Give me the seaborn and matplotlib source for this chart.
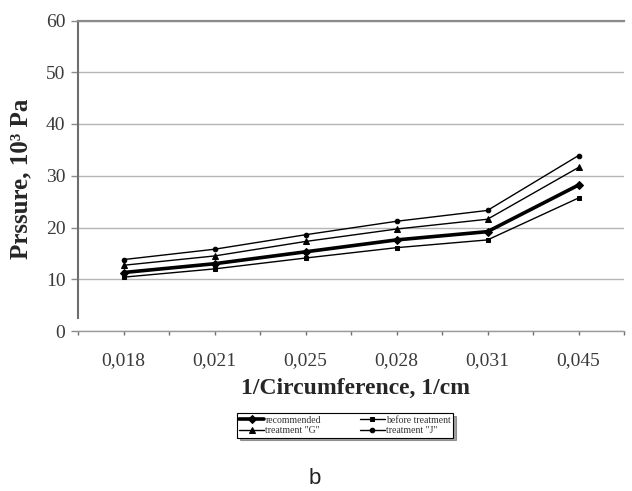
import matplotlib
matplotlib.use("Agg")
import matplotlib.pyplot as plt
import seaborn as sns
import pandas as pd

# ---- data ----
categories = ["0,018", "0,021", "0,025", "0,028", "0,031", "0,045"]
recommended = [11.3, 13.0, 15.3, 17.6, 19.2, 28.2]
before_treatment = [10.4, 12.0, 14.1, 16.1, 17.6, 25.7]
treatment_G = [12.7, 14.5, 17.3, 19.7, 21.6, 31.6]
treatment_J = [13.8, 15.8, 18.6, 21.2, 23.3, 33.9]
series_names = ["recommended", "before treatment", 'treatment "G"', 'treatment "J"']
y_ticks = [0, 10, 20, 30, 40, 50, 60]

sns.set_style("white")
plt.rcParams["font.family"] = ["Liberation Serif", "DejaVu Serif"]

fig = plt.figure(figsize=(6.32, 4.91), dpi=100)
ax = fig.add_axes([78 / 632, 1 - 331 / 491, (624 - 78) / 632, (331 - 20.5) / 491])

df = pd.DataFrame({"x": categories,
                   "recommended": recommended,
                   "before treatment": before_treatment,
                   'treatment "G"': treatment_G,
                   'treatment "J"': treatment_J})
long = df.melt(id_vars="x", var_name="series", value_name="y")

styles = {
    "recommended": dict(marker="D", lw=2.6, ms=3.8),
    "before treatment": dict(marker="s", lw=1.0, ms=3.3),
    'treatment "G"': dict(marker="^", lw=1.0, ms=3.8),
    'treatment "J"': dict(marker="o", lw=1.0, ms=3.3),
}

for name in series_names:
    st = styles[name]
    sub = long[long["series"] == name]
    sns.lineplot(data=sub, x="x", y="y", ax=ax, color="black", sort=False,
                 linewidth=st["lw"], marker=st["marker"], markersize=st["ms"],
                 markeredgecolor="black", markerfacecolor="black", label=name)

ax.set_xlim(-0.5, len(categories) - 0.5)
ax.set_ylim(0, 60)
ax.set_yticks(y_ticks)
ax.set_yticklabels([str(v) for v in y_ticks])
ax.set_xticks(range(len(categories)))
ax.set_xticklabels(categories)
ax.set_xticks([i - 0.5 for i in range(len(categories) + 1)], minor=True)

ax.grid(axis="y", color="#b5b5b5", linewidth=1.0)
ax.grid(axis="x", visible=False)
ax.set_axisbelow(True)

ax.spines["right"].set_visible(False)
ax.spines["top"].set_color("#8a8a8a")
ax.spines["top"].set_linewidth(1.6)
ax.spines["left"].set_color("#6e6e6e")
ax.spines["left"].set_linewidth(1.5)
ax.spines["left"].set_bounds(2.5, 60)
ax.spines["bottom"].set_color("#9a9a9a")
ax.spines["bottom"].set_linewidth(1.0)

ax.tick_params(axis="y", which="major", direction="out", length=5, width=1,
               color="#8a8a8a", labelsize=14, labelcolor="#3a3a3a", pad=4, left=True)
ax.tick_params(axis="x", which="major", direction="out", length=3, width=1,
               color="#707070", labelsize=14, labelcolor="#3a3a3a", pad=12, bottom=True)
ax.tick_params(axis="x", which="minor", direction="out", length=3, width=1,
               color="#707070", bottom=True)

ax.set_ylabel("Prssure, 10³ Pa", fontsize=18, fontweight="bold")
ax.yaxis.set_label_coords(-0.083, 0.49)
ax.set_xlabel("1/Circumference, 1/cm", fontsize=17, fontweight="bold")
ax.xaxis.set_label_coords(0.509, -0.152)

handles, labels = ax.get_legend_handles_labels()
order = [0, 2, 1, 3]
leg = ax.legend([handles[i] for i in order], [labels[i] for i in order],
                ncol=2, loc="center", bbox_to_anchor=((345 - 78) / 546, (331 - 425.5) / 310.5),
                fontsize=7, frameon=True, fancybox=False, shadow=True,
                edgecolor="black", handlelength=2.6, handletextpad=0.1,
                columnspacing=4.0, borderpad=0.25, labelspacing=0.15)
leg.get_frame().set_linewidth(0.8)
for t in leg.get_texts():
    t.set_color("#333333")

fig.text(315 / 632, 1 - 478 / 491, "b", fontsize=16, family="Liberation Sans",
         ha="center", va="center", color="#222222")

fig.savefig("out.png", dpi=100)
